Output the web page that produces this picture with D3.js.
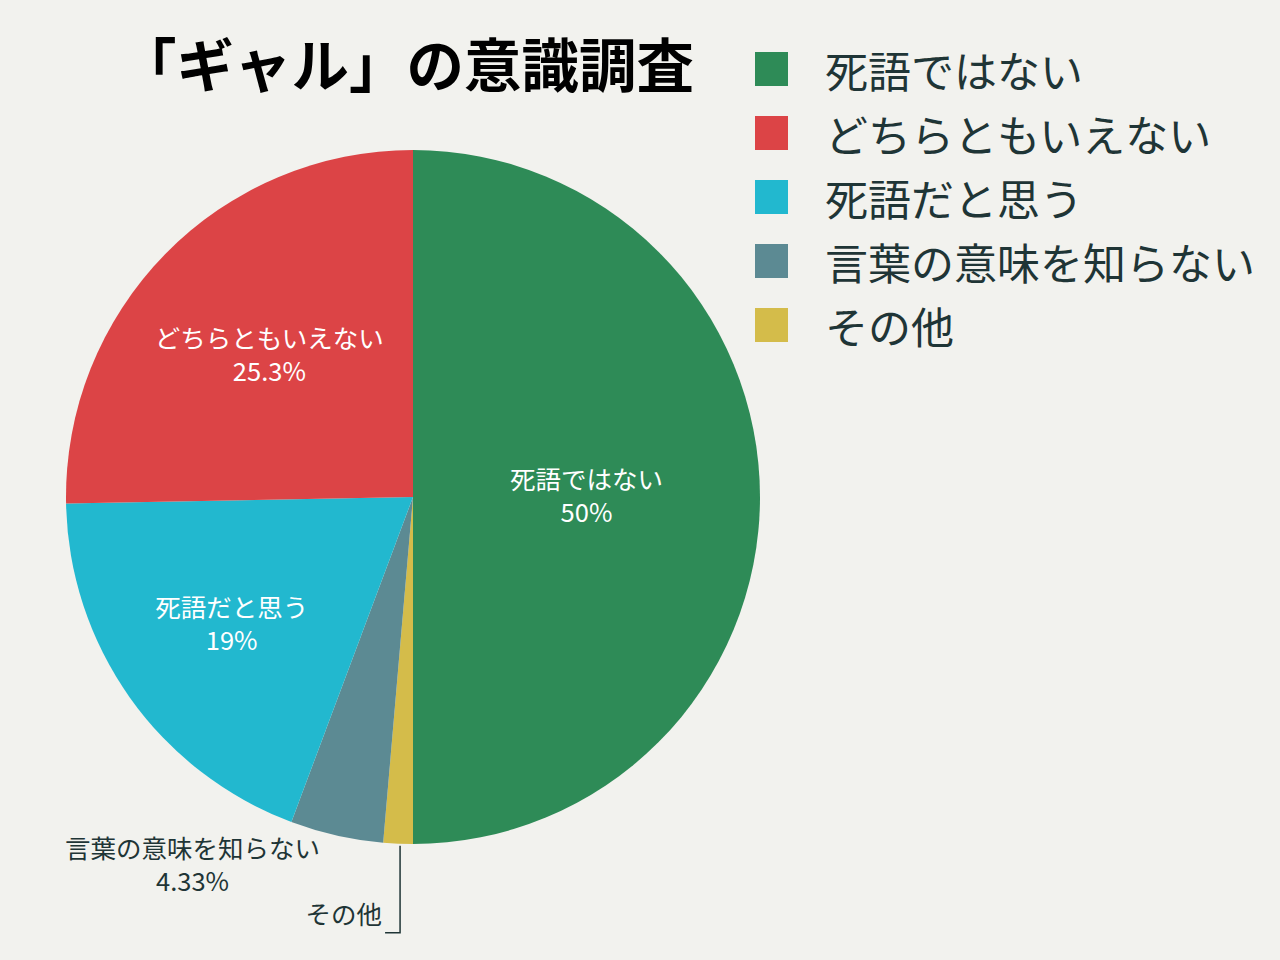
<!DOCTYPE html>
<html>
<head>
<meta charset="utf-8">
<script src="https://cdn.jsdelivr.net/npm/d3@7"></script>
<style>
  html, body { margin: 0; padding: 0; background: #F2F2EE; }
  svg { display: block; font-family: "Noto Sans CJK JP", "Noto Sans", sans-serif; }
</style>
</head>
<body>
<div id="chart"></div>
<script>
const categories = ["死語ではない", "どちらともいえない", "死語だと思う", "言葉の意味を知らない", "その他"];
const values = [50, 25.3, 19, 4.33, 1.37];
const percentLabels = ["50%", "25.3%", "19%", "4.33%", ""];
const colors = ["#2E8B57", "#DC4446", "#22B8CF", "#5C8A93", "#D4BC4A"];
// order in which slices go round the pie (clockwise from the top)
const sliceOrder = [0, 4, 3, 2, 1];

const width = 1280, height = 960;
const cx = 413, cy = 497, r = 347;
const textColor = "#1F3536";
const labelSize = 25.5;

const svg = d3.select("#chart").append("svg")
  .attr("width", width)
  .attr("height", height);

svg.append("rect").attr("width", width).attr("height", height).attr("fill", "#F2F2EE");

// title
svg.append("text")
  .attr("x", 119)
  .attr("y", 87)
  .attr("font-size", 57.5)
  .attr("font-weight", 700)
  .attr("fill", "#000")
  .text("「ギャル」の意識調査");

const slices = sliceOrder.map(i => ({ i, name: categories[i], value: values[i] }));

const pie = d3.pie().sort(null).value(d => d.value).startAngle(0).endAngle(2 * Math.PI);
const arcs = pie(slices);
const arc = d3.arc().innerRadius(0).outerRadius(r);

const g = svg.append("g").attr("transform", `translate(${cx},${cy})`);

g.selectAll("path.slice")
  .data(arcs)
  .join("path")
  .attr("class", "slice")
  .attr("d", arc)
  .attr("fill", d => colors[d.data.i]);

// labels inside the bigger slices
const inside = arcs.filter(d => d.data.value > 10);
const labelPos = d => {
  const k = d.data.value >= 40 ? 0.5 : (d.data.value > 22 ? 0.58 : 0.64);
  return d3.arc().innerRadius(r * k).outerRadius(r * k).centroid(d);
};

const lab = g.selectAll("g.lab")
  .data(inside)
  .join("g")
  .attr("class", "lab")
  .attr("transform", d => `translate(${labelPos(d)})`);

lab.append("text")
  .attr("text-anchor", "middle")
  .attr("y", -8)
  .attr("font-size", labelSize)
  .attr("fill", "#fff")
  .text(d => d.data.name);
lab.append("text")
  .attr("text-anchor", "middle")
  .attr("y", 25)
  .attr("font-size", labelSize)
  .attr("fill", "#fff")
  .text(d => percentLabels[d.data.i]);

// small slice labels outside the pie
const grayArc = arcs.find(d => d.data.i === 3);
const gp = d3.arc().innerRadius(r).outerRadius(r).centroid(grayArc);
const outG = g.append("g").attr("transform", `translate(${gp[0] - 144},${gp[1] + 23})`);
outG.append("text").attr("text-anchor", "middle").attr("y", 0)
  .attr("font-size", labelSize).attr("fill", textColor).text(categories[3]);
outG.append("text").attr("text-anchor", "middle").attr("y", 33)
  .attr("font-size", labelSize).attr("fill", textColor).text(percentLabels[3]);

const otherArc = arcs.find(d => d.data.i === 4);
const op = d3.arc().innerRadius(r).outerRadius(r).centroid(otherArc);
const lx = op[0] + 2;
g.append("path")
  .attr("d", `M${lx},${op[1] + 2}V${op[1] + 89}H${lx - 15}`)
  .attr("fill", "none")
  .attr("stroke", textColor)
  .attr("stroke-width", 1.5);
g.append("text")
  .attr("x", lx - 18)
  .attr("y", op[1] + 80)
  .attr("text-anchor", "end")
  .attr("font-size", labelSize)
  .attr("fill", textColor)
  .text(categories[4]);

// legend
const legend = svg.append("g").attr("transform", "translate(755,69)");
const rows = legend.selectAll("g")
  .data(categories)
  .join("g")
  .attr("transform", (d, i) => `translate(0,${i * 64})`);
rows.append("rect")
  .attr("x", 0).attr("y", -17)
  .attr("width", 33).attr("height", 34)
  .attr("fill", (d, i) => colors[i]);
rows.append("text")
  .attr("x", 70)
  .attr("y", 0)
  .attr("dominant-baseline", "central")
  .attr("font-size", 43)
  .attr("fill", textColor)
  .text(d => d);
</script>
</body>
</html>
